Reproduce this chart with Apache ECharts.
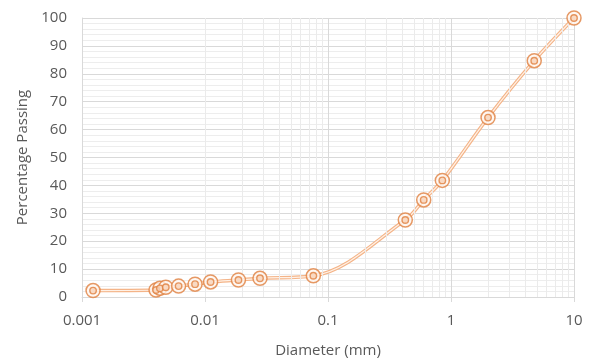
<!DOCTYPE html>
<html lang="en">
<head>
    <meta charset="UTF-8">
    <title>Particle size distribution</title>
    <script src="https://cdn.jsdelivr.net/npm/echarts@6/dist/echarts.min.js"></script>
    <style>
        body { margin: 0; background: #fff; }
    </style>
</head>
<body>
<div id="box" style="width: 591px;height: 361px;"></div>
<script>
    // sieve / hydrometer diameters (mm) and percentage passing
    var diameter = [0.00123, 0.0040, 0.0043, 0.0048, 0.0061, 0.0083, 0.0111, 0.0187, 0.028, 0.076,
                    0.425, 0.6, 0.85, 2.0, 4.75, 10];
    var passing = [2.3, 2.5, 3.1, 3.5, 3.9, 4.6, 5.4, 6.1, 6.7, 7.6,
                   27.6, 34.8, 41.8, 64.3, 84.7, 100];
    // minor vertical gridlines for the log axis (2..9 in every decade)
    var minorX = [];
    [0.001, 0.01, 0.1, 1].forEach(function (d) {
        for (var k = 2; k <= 9; k++) minorX.push(+(d * k).toPrecision(3));
    });

    var pts = diameter.map(function (d, i) { return [d, passing[i]]; });
    var orange = '#E0803F';
    var font = 'Open Sans';

    var myChart = echarts.init(document.getElementById('box'));
    var option = {
        animation: false,
        grid: { left: 82, right: 17, top: 18, bottom: 64, outerBoundsMode: 'none', containLabel: false },
        xAxis: {
            type: 'log',
            logBase: 10,
            min: 0.001,
            max: 10,
            name: 'Diameter (mm)',
            nameLocation: 'middle',
            nameGap: 46,
            nameTextStyle: { color: '#595959', fontSize: 15, fontFamily: font },
            axisLine: { lineStyle: { color: '#D9D9D9' } },
            axisTick: { show: true, length: 5, lineStyle: { color: '#D9D9D9' } },
            axisLabel: {
                color: '#595959', fontSize: 15, fontFamily: font, margin: 16,
                formatter: function (v) { return String(+v.toPrecision(3)); }
            },
            splitLine: { show: true, lineStyle: { color: '#D9D9D9' } }
        },
        yAxis: {
            type: 'value',
            min: 0,
            max: 100,
            interval: 10,
            name: 'Percentage Passing',
            nameLocation: 'middle',
            nameGap: 50,
            nameTextStyle: { color: '#595959', fontSize: 15, fontFamily: font },
            axisLine: { show: true, lineStyle: { color: '#D9D9D9' } },
            axisTick: { show: false },
            axisLabel: { color: '#595959', fontSize: 15, fontFamily: font, margin: 15 },
            splitLine: { lineStyle: { color: '#D9D9D9' } },
            minorTick: { show: false, splitNumber: 5 },
            minorSplitLine: { show: true, lineStyle: { color: '#EDEDED' } }
        },
        series: [
            {
                type: 'line',
                data: [],
                silent: true,
                markLine: {
                    silent: true,
                    symbol: 'none',
                    label: { show: false },
                    lineStyle: { color: '#EBEBEB', width: 1, type: 'solid' },
                    data: minorX.map(function (x) { return { xAxis: x }; })
                },
                z: 1
            },
            {
                type: 'line',
                data: pts,
                smooth: 0.35,
                symbol: 'none',
                lineStyle: { color: '#F4B488', width: 3.5 },
                z: 3
            },
            {
                type: 'line',
                data: pts,
                smooth: 0.35,
                symbol: 'none',
                lineStyle: { color: '#FFF1E6', width: 1.2 },
                z: 4
            },
            {
                type: 'scatter',
                data: pts,
                symbol: 'circle',
                symbolSize: 14,
                itemStyle: { color: '#FFF6F0', borderColor: orange, borderWidth: 1.5 },
                z: 5
            },
            {
                type: 'scatter',
                data: pts,
                symbol: 'circle',
                symbolSize: 6.5,
                itemStyle: { color: '#F8D5BC', borderColor: orange, borderWidth: 1.4 },
                z: 6
            }
        ]
    };
    myChart.setOption(option);
</script>
</body>
</html>
